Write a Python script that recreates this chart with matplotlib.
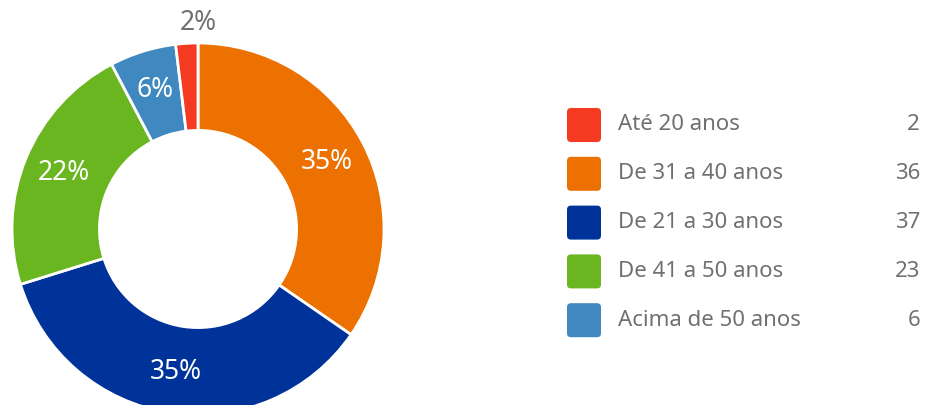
import matplotlib.pyplot as plt
from matplotlib.patches import FancyBboxPatch

# legend order
categories = ["Até 20 anos", "De 31 a 40 anos", "De 21 a 30 anos", "De 41 a 50 anos", "Acima de 50 anos"]
counts = [2, 36, 37, 23, 6]
pct_labels = ["2%", "35%", "35%", "22%", "6%"]
colors = ["#F43B21", "#ED7100", "#00339A", "#6AB620", "#3F89C0"]

# order of the slices clockwise from the top
pie_order = [1, 2, 3, 4, 0]

text_gray = "#707070"
plt.rcParams['font.family'] = ['Noto Sans', 'DejaVu Sans']

fig = plt.figure(figsize=(9.28, 4.05), dpi=100)
ax = fig.add_axes([0, 0, 1, 1])

cx, cy, r = 198, 405 - 229, 186
vals = [counts[i] for i in pie_order]
wedges, texts = ax.pie(vals, colors=[colors[i] for i in pie_order],
                       startangle=90, counterclock=False,
                       center=(cx, cy), radius=r,
                       wedgeprops=dict(width=r * 0.47, edgecolor='white', linewidth=2),
                       labels=[pct_labels[i] for i in pie_order],
                       labeldistance=0.78,
                       textprops=dict(color='white', fontsize=19))
for t in texts:
    t.set_horizontalalignment('center')
    t.set_verticalalignment('center')

# small slice label goes outside, in gray
small = texts[-1]
small.set_position((cx, cy + r * 1.11))
small.set_color(text_gray)

ax.set_xlim(0, 928)
ax.set_ylim(0, 405)
ax.set_aspect('equal')
ax.axis('off')

# legend
y0, step = 405 - 125, 48.8
for k, (cat, n, c) in enumerate(zip(categories, counts, colors)):
    y = y0 - k * step
    ax.add_patch(FancyBboxPatch((567, y - 17), 34, 34,
                                boxstyle="round,pad=0,rounding_size=4",
                                facecolor=c, edgecolor='none'))
    ax.text(618, y, cat, color=text_gray, fontsize=16, ha='left', va='center')
    ax.text(920, y, str(n), color=text_gray, fontsize=16, ha='right', va='center')

fig.savefig("out.png", dpi=100)
